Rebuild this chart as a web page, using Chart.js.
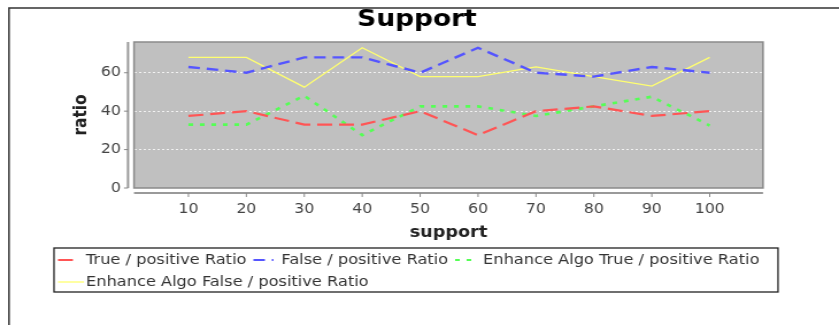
<!DOCTYPE html>
<html>
<head>
<meta charset="utf-8">
<script src="https://cdn.jsdelivr.net/npm/chart.js@4.4.1/dist/chart.umd.min.js"></script>
<style>
  html, body { margin: 0; padding: 0; background: #fff; overflow: hidden; }
  #wrap { width: 730px; height: 325px; transform-origin: 0 0; }
  canvas { display: block; }
</style>
</head>
<body>
<div id="wrap"><canvas id="c" width="730" height="325"></canvas></div>
<script>
// ---- data ----
const chartTitle = "Support";
const xTitle = "support";
const yTitle = "ratio";
const supports = [10, 20, 30, 40, 50, 60, 70, 80, 90, 100];
const yTicks = [0, 20, 40, 60];
const seriesNames = [
  "True / positive Ratio",
  "False / positive Ratio",
  "Enhance Algo True / positive Ratio",
  "Enhance Algo False / positive Ratio"
];
const truePositive    = [37.5, 40, 33, 33, 40, 27.5, 40, 42.5, 37.5, 40];
const falsePositive   = [63, 60, 68, 68, 60, 73, 60, 58, 63, 60];
const enhanceTrue     = [33, 33, 48, 27.5, 42.5, 42.5, 37.5, 42.5, 47.5, 32.5];
const enhanceFalse    = [68, 68, 52.5, 73, 58, 58, 63, 58, 53, 68];

// ---- geometry (reference pixels, canvas is stretched horizontally) ----
const W = 730, H = 325;
const S = 839 / W;
document.getElementById('wrap').style.transform = 'scaleX(' + S + ')';
const R = v => v / S;

const FONT = "'DejaVu Sans', Verdana, sans-serif";
const plotL = R(134), plotR = R(763), plotT = 42, plotB = 188;

const styles = [
  { color: '#ff5555', dash: [13, 6], width: 2.2 },
  { color: '#5555ff', dash: [10, 6], width: 2.4 },
  { color: '#55ff55', dash: [4, 6], width: 2.6 },
  { color: '#ffff70', dash: [], width: 1.3 }
];
const seriesValues = [truePositive, falsePositive, enhanceTrue, enhanceFalse];

const datasets = seriesValues.map((vals, i) => ({
  label: seriesNames[i],
  data: supports.map((s, j) => ({ x: s, y: vals[j] })),
  borderColor: styles[i].color,
  backgroundColor: styles[i].color,
  borderWidth: styles[i].width,
  borderDash: styles[i].dash,
  pointRadius: 0,
  pointHoverRadius: 0,
  tension: 0,
  fill: false
}));

const deco = {
  id: 'deco',
  beforeDraw(chart) {
    const ctx = chart.ctx;
    ctx.save();
    ctx.fillStyle = '#ffffff';
    ctx.fillRect(0, 0, W, H);
    // outer border (continues beyond right/bottom edges)
    ctx.strokeStyle = '#333333';
    ctx.lineWidth = 1.5;
    ctx.beginPath();
    ctx.moveTo(R(9), H + 5);
    ctx.lineTo(R(9), 8);
    ctx.lineTo(W + 5, 8);
    ctx.stroke();
    // plot background
    const a = chart.chartArea;
    ctx.fillStyle = '#c0c0c0';
    ctx.fillRect(a.left, a.top, a.right - a.left, a.bottom - a.top);
    ctx.restore();
  },
  afterDraw(chart) {
    const ctx = chart.ctx;
    const a = chart.chartArea;
    const xs = chart.scales.x, ys = chart.scales.y;
    ctx.save();
    // plot outline
    ctx.strokeStyle = '#8a8a8a';
    ctx.lineWidth = 1.5;
    ctx.strokeRect(a.left, a.top, a.right - a.left, a.bottom - a.top);
    // axis lines
    ctx.strokeStyle = '#9a9a9a';
    ctx.lineWidth = 2;
    ctx.beginPath();
    ctx.moveTo(R(128), a.top);
    ctx.lineTo(R(128), a.bottom);
    ctx.moveTo(a.left, 193);
    ctx.lineTo(a.right, 193);
    ctx.stroke();
    // tick marks
    ctx.lineWidth = 1;
    ctx.strokeStyle = '#888888';
    ctx.beginPath();
    yTicks.forEach(v => {
      const y = ys.getPixelForValue(v);
      ctx.moveTo(R(124), y);
      ctx.lineTo(R(128), y);
    });
    supports.forEach(v => {
      const x = xs.getPixelForValue(v);
      ctx.moveTo(x, 193);
      ctx.lineTo(x, 197);
    });
    ctx.stroke();

    // title
    ctx.fillStyle = '#000000';
    ctx.font = "bold 23px " + FONT;
    ctx.textAlign = 'center';
    ctx.textBaseline = 'middle';
    ctx.fillText(chartTitle, R(417), 20);

    // legend
    const boxL = R(54), boxT = 248, boxR = R(778), boxB = 292;
    ctx.strokeStyle = '#222222';
    ctx.lineWidth = 1.3;
    ctx.strokeRect(boxL, boxT, boxR - boxL, boxB - boxT);
    ctx.font = "14.1px " + FONT;
    ctx.textAlign = 'left';
    ctx.textBaseline = 'middle';
    let x = R(58), row = 0;
    const rowY = [260, 282];
    chart.data.datasets.forEach((ds, i) => {
      const tw = ctx.measureText(ds.label).width;
      const itemW = R(28) + tw;
      if (x + itemW > boxR - R(4)) { row++; x = R(58); }
      const y = rowY[row];
      ctx.save();
      ctx.strokeStyle = ds.borderColor;
      ctx.lineWidth = Math.min(ds.borderWidth, 2);
      ctx.setLineDash(ds.borderDash || []);
      const sampleLen = (ds.borderDash && ds.borderDash.length) ? R(20) : R(26);
      ctx.beginPath();
      ctx.moveTo(x, y);
      ctx.lineTo(x + sampleLen, y);
      ctx.stroke();
      ctx.restore();
      ctx.fillStyle = '#333333';
      ctx.fillText(ds.label, x + R(28), y + 0.5);
      x += itemW + R(7);
    });
    ctx.restore();
  }
};

new Chart(document.getElementById('c'), {
  type: 'line',
  data: { datasets },
  options: {
    responsive: false,
    maintainAspectRatio: false,
    devicePixelRatio: 1,
    animation: false,
    events: [],
    layout: { padding: { left: 0, right: W - plotR, top: plotT, bottom: 0 } },
    plugins: {
      legend: { display: false },
      title: { display: false },
      tooltip: { enabled: false }
    },
    scales: {
      x: {
        type: 'linear',
        min: 0.6,
        max: 109.2,
        afterBuildTicks: s => { s.ticks = supports.map(v => ({ value: v })); },
        afterFit: s => { s.height = H - plotB; },
        grid: { display: false, drawTicks: false },
        border: { display: false },
        ticks: {
          color: '#444444',
          font: { family: FONT, size: 13.7 },
          padding: 13,
          maxRotation: 0,
          autoSkip: false
        },
        title: {
          display: true,
          text: xTitle,
          color: '#222222',
          font: { family: FONT, size: 15.4, weight: 'bold' },
          padding: { top: 0, bottom: 83 }
        }
      },
      y: {
        type: 'linear',
        min: 0,
        max: 76,
        afterBuildTicks: s => { s.ticks = yTicks.map(v => ({ value: v })); },
        afterFit: s => { s.width = plotL; },
        grid: {
          drawTicks: false,
          color: c => (c.tick && c.tick.value === 0) ? 'rgba(0,0,0,0)' : '#f2f2f2',
          lineWidth: 1
        },
        border: { display: false, dash: [2, 2] },
        ticks: {
          color: '#444444',
          font: { family: FONT, size: 13.7 },
          padding: R(13)
        },
        title: {
          display: true,
          text: yTitle,
          color: '#222222',
          font: { family: FONT, size: 15.4, weight: 'bold' },
          padding: { top: 62, bottom: 0 }
        }
      }
    }
  },
  plugins: [deco]
});
</script>
</body>
</html>
